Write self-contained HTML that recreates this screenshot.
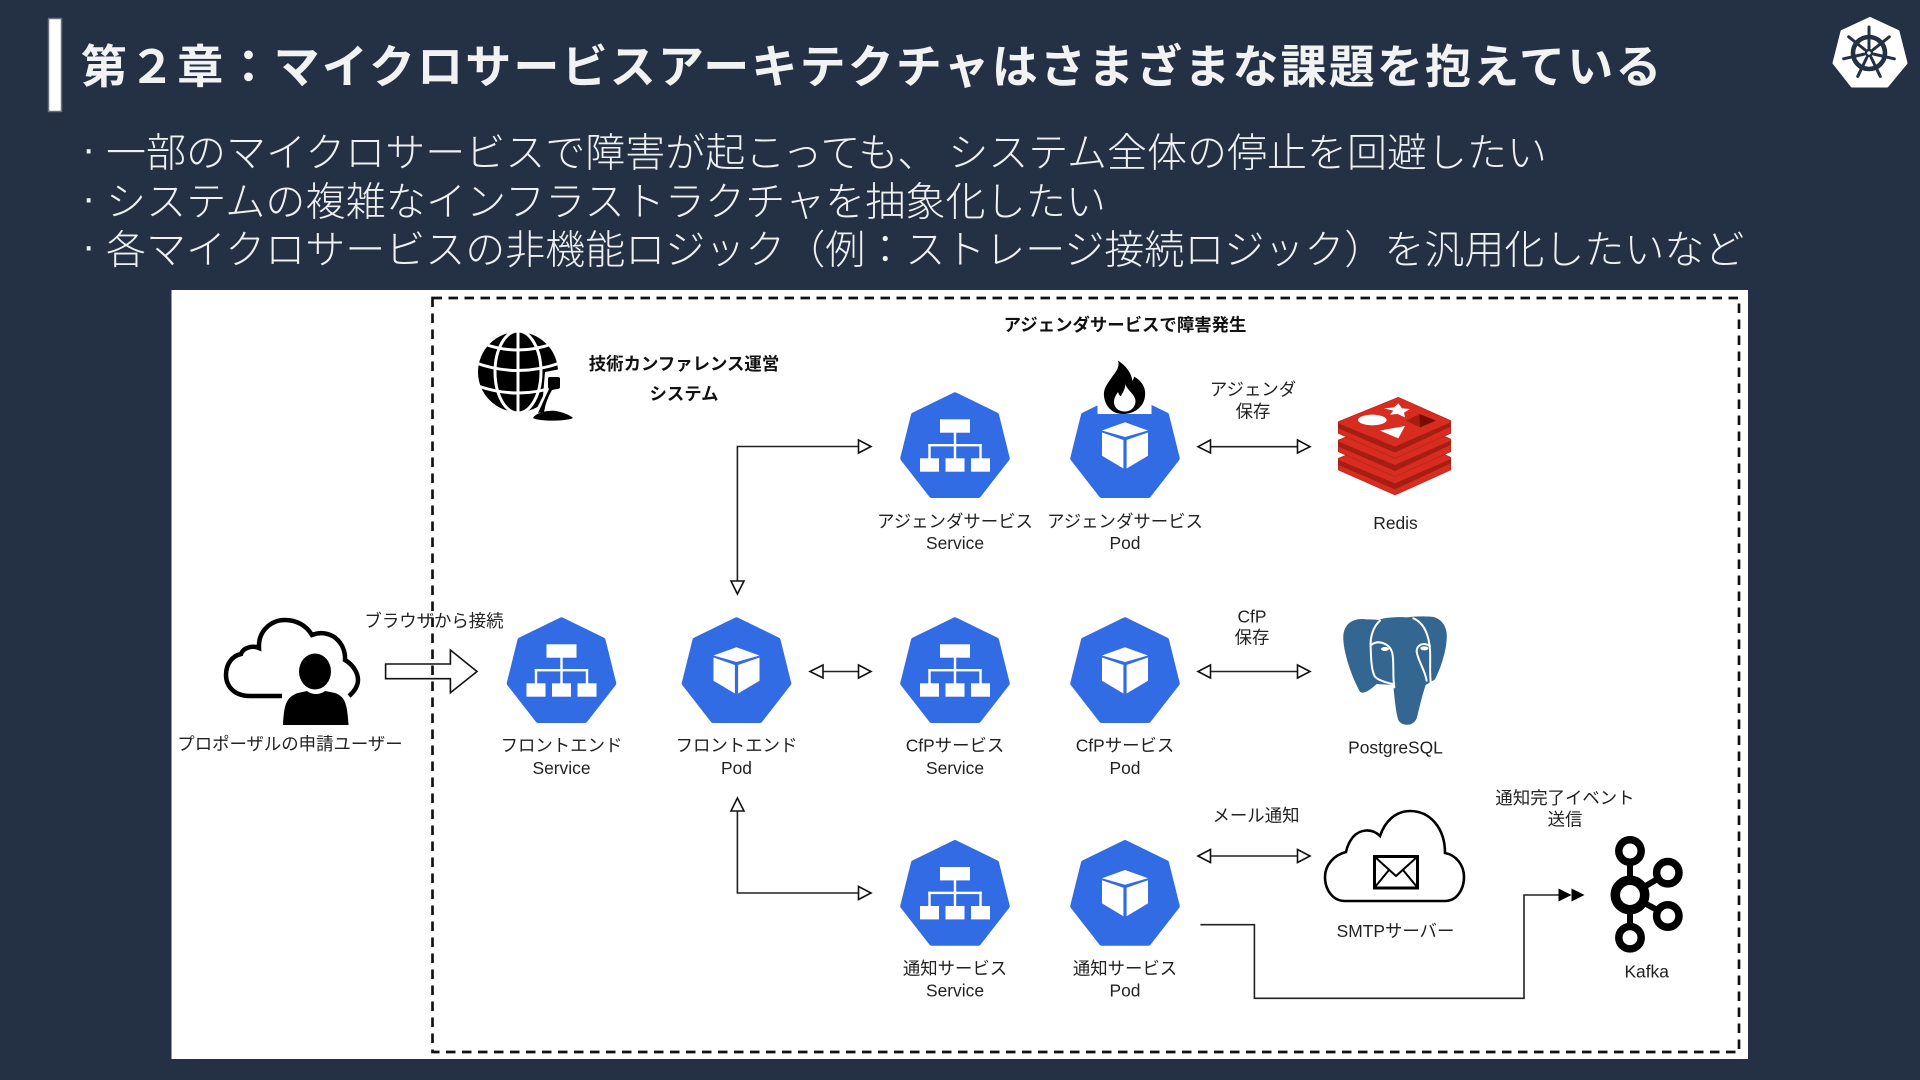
<!DOCTYPE html>
<html lang="ja">
<head>
<meta charset="utf-8">
<title>第2章</title>
<style>
html,body{margin:0;padding:0;background:#243043;}
body{width:1920px;height:1080px;overflow:hidden;position:relative;}
svg{position:absolute;left:0;top:0;display:block;}
.l{font-family:"Liberation Sans","Noto Sans CJK JP",sans-serif;font-size:17.4px;fill:#222;text-anchor:middle;dominant-baseline:central;}
.b{font-weight:bold;fill:#111;}
.t{font-family:"Noto Sans CJK JP",sans-serif;font-size:46px;font-weight:bold;fill:#f1f2f3;letter-spacing:2.15px;dominant-baseline:central;}
.p{font-family:"Noto Sans CJK JP",sans-serif;font-size:40px;font-weight:300;fill:#eef0f2;dominant-baseline:central;}
.d{font-family:"Liberation Sans",sans-serif;font-size:40px;fill:#eef0f2;dominant-baseline:central;}
.c{fill:none;stroke:#222;stroke-width:1.6;}
.a{fill:#fff;stroke:#111;stroke-width:1.6;}
</style>
</head>
<body>
<svg width="1920" height="1080" viewBox="0 0 1920 1080" xmlns="http://www.w3.org/2000/svg">
<defs>
  <g id="hep">
    <polygon points="0,2.8 41.5,23 52.3,66.5 23.5,103.5 -23.5,103.5 -52.3,66.5 -41.5,23" fill="#326ce5" stroke="#326ce5" stroke-width="5" stroke-linejoin="round"/>
  </g>
  <g id="svc">
    <use href="#hep"/>
    <g fill="#fff">
      <rect x="-15" y="27.3" width="30" height="13.4"/>
      <rect x="-35" y="66.3" width="19" height="13.4"/>
      <rect x="-9.5" y="66.3" width="19" height="13.4"/>
      <rect x="16" y="66.3" width="19" height="13.4"/>
      <rect x="-1.2" y="40" width="2.4" height="27"/>
      <rect x="-26.7" y="52" width="53.4" height="2.4"/>
      <rect x="-26.7" y="52" width="2.4" height="15"/>
      <rect x="24.3" y="52" width="2.4" height="15"/>
    </g>
  </g>
  <g id="cube" fill="#fff">
    <polygon points="0,30.3 23,38.5 0,45 -23,38.5"/>
    <polygon points="-23,40.5 -1.6,48 -1.6,76.5 -23,63.7"/>
    <polygon points="23,40.5 1.6,48 1.6,76.5 23,63.7"/>
  </g>
  <g id="pod">
    <use href="#hep"/>
    <use href="#cube"/>
  </g>
</defs>

<!-- Header -->
<rect x="48.5" y="18.5" width="13" height="93" fill="#ffffff" stroke="#6b7078" stroke-width="1.5"/>
<text class="t" x="81" y="64">第２章：マイクロサービスアーキテクチャはさまざまな課題を抱えている</text>
<text class="d" x="82" y="149">·</text>
<text class="d" x="82" y="198">·</text>
<text class="d" x="82" y="246">·</text>
<text class="p" x="106" y="149.5">一部のマイクロサービスで障害が起こっても、<tspan dx="11">システム全体の停止を回避したい</tspan></text>
<text class="p" x="106" y="198.5" style="letter-spacing:.15px">システムの複雑なインフラストラクチャを抽象化したい</text>
<text class="p" x="106" y="246.5">各マイクロサービスの非機能ロジック（例：ストレージ接続ロジック）を汎用化したいなど</text>

<!-- K8s logo -->
<polygon points="1870,18.5 1898,31.5 1906,63 1887,86 1852,86 1834,63 1842,31.5" fill="#fff" stroke="#fff" stroke-width="3" stroke-linejoin="round"/>
<g transform="translate(1869 53)" fill="none" stroke="#243043">
  <circle r="16" stroke-width="4.6"/>
  <circle r="3" stroke-width="2.4"/>
  <g stroke-width="3" stroke-linecap="round">
    <line x1="0" y1="-5" x2="0" y2="-26"/>
    <line x1="0" y1="-5" x2="0" y2="-26" transform="rotate(51.4)"/>
    <line x1="0" y1="-5" x2="0" y2="-26" transform="rotate(102.9)"/>
    <line x1="0" y1="-5" x2="0" y2="-26" transform="rotate(154.3)"/>
    <line x1="0" y1="-5" x2="0" y2="-26" transform="rotate(205.7)"/>
    <line x1="0" y1="-5" x2="0" y2="-26" transform="rotate(257.1)"/>
    <line x1="0" y1="-5" x2="0" y2="-26" transform="rotate(308.6)"/>
  </g>
</g>

<!-- Panel -->
<rect x="171.5" y="290" width="1576.5" height="769" fill="#ffffff"/>
<rect x="432.5" y="298" width="1306.5" height="754" fill="none" stroke="#111" stroke-width="2.7" stroke-dasharray="9.5 6.5"/>

<text class="l b" x="1125" y="325">アジェンダサービスで障害発生</text>
<text class="l b" x="684" y="364">技術カンファレンス運営</text>
<text class="l b" x="684" y="394">システム</text>

<!-- Globe -->
<g>
  <ellipse cx="518" cy="372" rx="40" ry="40" fill="#000"/>
  <g fill="none" stroke="#fff" stroke-width="3">
    <ellipse cx="518" cy="372" rx="23" ry="41"/>
    <line x1="518" y1="330" x2="518" y2="414"/>
    <path d="M484 344 Q518 356 552 344"/>
    <path d="M476 363 Q518 378 560 363"/>
    <path d="M478 386 Q518 400 558 386"/>
  </g>
  <polygon points="545,372 566,368 566,400 552,425 530,425 536,410 543,396" fill="#fff"/>
  <path d="M548 379 Q548 377 550 377 H558 Q560 377 560 379 V387 Q560 389 557 389 L552 390 Q546 400 544 412 L538 413 Q544 400 549 389 Q548 388 548 387 Z" fill="#000"/>
  <path d="M533 418 C536 412 550 410 556 411 C562 412 570 415 573 418 C568 421 540 422 533 418 Z" fill="#000"/>
</g>

<!-- User -->
<path d="M282 696 H250 C234 696 226 686 226 675 C226 664 232 656 241 654 C243 648 252 645 259 648 C258 630 272 620 285 620 C296 620 306 625 312 635 C330 628 346 642 345 660 C352 664 358 672 358 680 C358 686 354 692 349 696" fill="none" stroke="#000" stroke-width="4.5"/>
<ellipse cx="315" cy="671.5" rx="20" ry="22" fill="#fff"/>
<path d="M283 725 C284 705 286 697 298 693 L307 691 C312 695 320 695 325 691 L335 693 C346 697 347 705 348.6 725 Z" fill="#000" stroke="#fff" stroke-width="5" paint-order="stroke"/>
<ellipse cx="315" cy="671.5" rx="16" ry="18" fill="#000"/>
<text class="l" x="290" y="744">プロポーザルの申請ユーザー</text>
<text class="l" x="434" y="621">ブラウザから接続</text>
<path d="M385.6 664 H450.4 V650 L477 671.5 L450.4 692.7 V678.7 H385.6 Z" fill="none" stroke="#111" stroke-width="1.6"/>

<!-- Nodes -->
<use href="#svc" x="561.5" y="617"/>
<use href="#pod" x="736.5" y="617"/>
<use href="#svc" x="955" y="617"/>
<use href="#pod" x="1125" y="617"/>
<use href="#svc" x="955" y="392"/>
<use href="#pod" x="1125" y="392"/>
<use href="#svc" x="955" y="839.7"/>
<use href="#pod" x="1125" y="839.7"/>

<!-- Flame -->
<rect x="1097.5" y="385" width="54" height="29" fill="#fff"/>
<path d="M1118 360.5 C1126 366 1131 372 1132.5 381 C1133.5 379 1134 378 1134 376.5 C1142 381 1146 388 1145 396 C1144 407 1134 414 1123 414 C1112 414 1105 406 1104 396 C1103 388 1109 382 1112 377 C1116 372 1120 367 1118 360.5 Z" fill="#000"/>
<path d="M1125 383 C1126 390 1136 394 1135.5 402 C1135 408 1130 411.5 1125 411.5 C1119 411.5 1114 408 1114 402 C1114 398 1116 395 1118 392 C1119 395 1120 396 1121 396 C1123 392 1126 388 1125 383 Z" fill="#fff"/>

<!-- Labels -->
<text class="l" x="561.5" y="745.7">フロントエンド</text>
<text class="l" x="561.5" y="768">Service</text>
<text class="l" x="736.5" y="745.7">フロントエンド</text>
<text class="l" x="736.5" y="768">Pod</text>
<text class="l" x="955" y="745.7">CfPサービス</text>
<text class="l" x="955" y="768">Service</text>
<text class="l" x="1125" y="745.7">CfPサービス</text>
<text class="l" x="1125" y="768">Pod</text>
<text class="l" x="955" y="521.5">アジェンダサービス</text>
<text class="l" x="955" y="543">Service</text>
<text class="l" x="1125" y="521.5">アジェンダサービス</text>
<text class="l" x="1125" y="543">Pod</text>
<text class="l" x="955" y="968.5">通知サービス</text>
<text class="l" x="955" y="990.7">Service</text>
<text class="l" x="1125" y="968.5">通知サービス</text>
<text class="l" x="1125" y="990.7">Pod</text>
<text class="l" x="1253" y="389.5">アジェンダ</text>
<text class="l" x="1253" y="411.5">保存</text>
<text class="l" x="1252" y="616.7">CfP</text>
<text class="l" x="1252" y="637.7">保存</text>
<text class="l" x="1256" y="815.7">メール通知</text>
<text class="l" x="1565" y="798">通知完了イベント</text>
<text class="l" x="1565" y="819.3">送信</text>
<text class="l" x="1395.5" y="523">Redis</text>
<text class="l" x="1395.5" y="747.7">PostgreSQL</text>
<text class="l" x="1395.5" y="931">SMTPサーバー</text>
<text class="l" x="1646.7" y="971.7">Kafka</text>

<!-- Connectors -->
<path class="c" d="M858 446.5 H737.4 V581"/>
<polygon class="a" points="858.5,440 871,446.5 858.5,453"/>
<polygon class="a" points="731,581 744,581 737.4,594"/>
<path class="c" d="M737.4 811 V893 H858"/>
<polygon class="a" points="731,811 744,811 737.4,798"/>
<polygon class="a" points="858.5,886.5 871,893 858.5,899.5"/>
<path class="c" d="M823 671.5 H858"/>
<polygon class="a" points="823,665 810,671.5 823,678"/>
<polygon class="a" points="858.5,665 871,671.5 858.5,678"/>
<g>
  <path class="c" d="M1210 446.7 H1298"/>
  <polygon class="a" points="1210.5,440 1198,446.7 1210.5,453"/>
  <polygon class="a" points="1297.5,440 1310,446.7 1297.5,453"/>
  <path class="c" d="M1210 671.5 H1298"/>
  <polygon class="a" points="1210.5,665 1198,671.5 1210.5,678"/>
  <polygon class="a" points="1297.5,665 1310,671.5 1297.5,678"/>
  <path class="c" d="M1210 856 H1298"/>
  <polygon class="a" points="1210.5,849.5 1198,856 1210.5,862.5"/>
  <polygon class="a" points="1297.5,849.5 1310,856 1297.5,862.5"/>
</g>
<path class="c" d="M1200.4 924.7 H1254.4 V998.3 H1524 V895 H1560"/>
<polygon points="1558.5,888.5 1571.5,895 1558.5,901.5" fill="#000"/>
<polygon points="1571.5,888.5 1584.5,895 1571.5,901.5" fill="#000"/>

<!-- Redis -->
<g transform="translate(1330 390) scale(.33333)">
  <g stroke="#b3241a" stroke-width="2" stroke-linejoin="round">
    <polygon points="25,205 205,132 362,202 362,240 195,315 25,240" fill="#d82c20"/>
    <polygon points="25,210 195,280 362,207 362,220 195,298 25,225" fill="#a41e11" stroke="none"/>
    <polygon points="25,150 205,77 362,147 362,185 195,260 25,185" fill="#d82c20"/>
    <polygon points="25,155 195,225 362,152 362,165 195,243 25,170" fill="#a41e11" stroke="none"/>
    <polygon points="25,95 205,22 362,92 362,130 195,205 25,130" fill="#d82c20"/>
    <polygon points="25,100 195,170 362,97 362,110 195,188 25,115" fill="#a41e11" stroke="none"/>
  </g>
  <polygon points="205,40 216,55 240,57 222,68 225,82 203,72 180,74 190,62 162,55 192,52" fill="#fff"/>
  <ellipse cx="127" cy="90" rx="43" ry="16" fill="#fff"/>
  <polygon points="150,122 225,108 205,145" fill="#fff"/>
  <polygon points="268,72 318,92 270,112 228,92" fill="#a41e11"/>
  <polygon points="268,72 318,92 270,112" fill="#7a0c00"/>
</g>

<!-- PostgreSQL -->
<g transform="translate(1335 610) scale(.33333)">
  <path d="M95 28 C50 22 22 45 25 90 C28 140 55 210 75 245 C85 255 105 240 125 222 L175 225 C178 260 183 310 190 330 C200 350 235 350 245 325 C252 300 260 260 272 225 L300 208 C320 170 338 110 335 70 C332 40 310 20 285 20 C255 18 235 20 215 22 C185 20 150 22 130 30 C118 28 105 28 95 28 Z" fill="#336791"/>
  <g fill="none" stroke="#fff" stroke-width="6" stroke-linecap="round">
    <path d="M135 32 C115 50 105 80 107 110 C108 150 110 185 120 200 C130 212 155 218 172 222"/>
    <path d="M108 105 C130 88 165 100 172 130 C178 160 172 195 178 232"/>
    <path d="M235 25 C270 40 282 80 285 120 C287 150 283 190 288 225"/>
    <path d="M285 108 C265 95 245 105 245 125 C250 155 270 180 275 212"/>
  </g>
  <path d="M125 252 C150 255 170 245 180 222 L172 226 C155 232 138 240 125 252 Z" fill="#fff"/>
  <path d="M278 226 C295 245 318 240 335 228 C315 232 297 232 282 222 Z" fill="#fff"/>
  <ellipse cx="150" cy="117" rx="12" ry="6" fill="#fff"/>
  <ellipse cx="268" cy="115" rx="12" ry="6" fill="#fff"/>
</g>

<!-- SMTP -->
<path d="M1345 901 H1445 C1457 901 1464 889 1464 877 C1464 865 1456 855 1445 853 C1445 828 1430 811 1410 811 C1396 811 1385 821 1380 836 C1372 828 1360 829 1353 837 C1349 842 1347 847 1346 852 C1334 855 1325 865 1325 877 C1325 890 1333 901 1345 901 Z" fill="#fff" stroke="#000" stroke-width="2.6"/>
<rect x="1374.5" y="856.5" width="43" height="31.5" fill="#fff" stroke="#000" stroke-width="3"/>
<path d="M1375 857 L1396 876 L1417 857 M1375 887 L1389 870 M1417 887 L1403 870" fill="none" stroke="#000" stroke-width="2"/>

<!-- Kafka -->
<g fill="none" stroke="#000">
  <g stroke-width="6">
    <line x1="1630" y1="851" x2="1630" y2="938"/>
    <line x1="1630" y1="895" x2="1668" y2="873"/>
    <line x1="1630" y1="895" x2="1668" y2="916"/>
  </g>
  <g fill="#fff" stroke-width="7.5">
    <circle cx="1630" cy="851" r="11.2"/>
    <circle cx="1667.8" cy="872.7" r="11.2"/>
    <circle cx="1667.8" cy="916" r="11.2"/>
    <circle cx="1630" cy="937.7" r="11.2"/>
    <circle cx="1630" cy="895" r="14.7" stroke-width="9.5"/>
  </g>
</g>
</svg>
</body>
</html>
